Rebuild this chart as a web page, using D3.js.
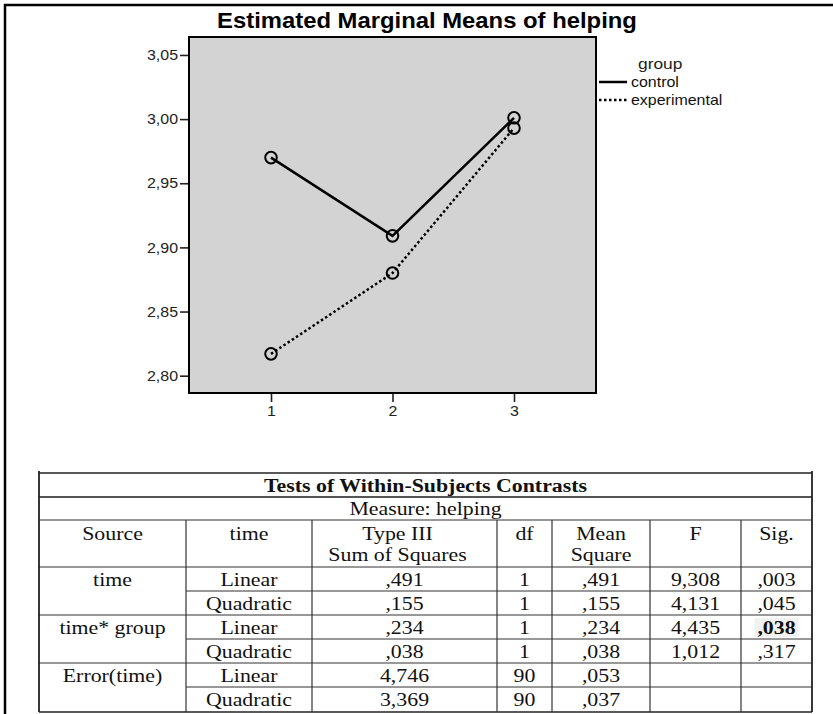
<!DOCTYPE html>
<html>
<head>
<meta charset="utf-8">
<script src="https://cdn.jsdelivr.net/npm/d3@7"></script>
<style>
  html, body { margin: 0; padding: 0; background: #fff; }
  svg { display: block; }
</style>
</head>
<body>
<svg id="fig" width="833" height="714"></svg>
<script>
// Profile plot data: estimated marginal means of helping by time and group
const timePoints = [1, 2, 3];
const timeLabels = ["1", "2", "3"];
const groupNames = ["control", "experimental"];
const controlMeans = [2.970, 2.909, 3.001];
const experimentalMeans = [2.817, 2.880, 2.993];
const yTicks = [2.80, 2.85, 2.90, 2.95, 3.00, 3.05];

// Contrast table contents
const tableTitle = "Tests of Within-Subjects Contrasts";
const measureLabel = "Measure: helping";
const headerTop = ["Source", "time", "Type III", "df", "Mean", "F", "Sig."];
const headerBottom = ["", "", "Sum of Squares", "", "Square", "", ""];
const sources = ["time", "time* group", "Error(time)"];
const contrastNames = ["Linear", "Quadratic", "Linear", "Quadratic", "Linear", "Quadratic"];
const sumSquares = [",491", ",155", ",234", ",038", "4,746", "3,369"];
const dfValues = ["1", "1", "1", "1", "90", "90"];
const meanSquares = [",491", ",155", ",234", ",038", ",053", ",037"];
const fValues = ["9,308", "4,131", "4,435", "1,012", "", ""];
const sigValues = [",003", ",045", ",038", ",317", "", ""];

const svg = d3.select("#fig");

// widen glyphs horizontally about each text's own anchor point
function stretch(sel, sx) {
  sel.each(function () {
    const t = d3.select(this);
    const tx = +t.attr("x") || 0, ty = +t.attr("y") || 0;
    t.attr("x", 0).attr("y", 0).attr("transform", `translate(${tx},${ty}) scale(${sx},1)`);
  });
  return sel;
}

// outer frame (top and left edges)
svg.append("path")
  .attr("d", "M5,714 L5,5 L833,5")
  .attr("fill", "none").attr("stroke", "#000").attr("stroke-width", 2.5);

// ---------- chart ----------
const sansFont = "Liberation Sans, Arial, sans-serif";
const plot = { left: 189, right: 596, top: 37, bottom: 393 };
const x = d3.scaleLinear().domain([0.325, 3.675]).range([plot.left, plot.right]);
const y = d3.scaleLinear().domain([2.7865, 3.064]).range([plot.bottom, plot.top]);
const commaFmt = v => d3.format(".2f")(v).replace(".", ",");

stretch(svg.append("text")
  .attr("x", 427).attr("y", 28)
  .attr("text-anchor", "middle")
  .attr("font-family", sansFont)
  .attr("font-weight", "bold").attr("font-size", 22.5)
  .text("Estimated Marginal Means of helping"), 1.06);

svg.append("rect")
  .attr("x", plot.left).attr("y", plot.top)
  .attr("width", plot.right - plot.left).attr("height", plot.bottom - plot.top)
  .attr("fill", "#d3d3d3").attr("stroke", "#000").attr("stroke-width", 2);

const yAxis = svg.append("g")
  .attr("transform", `translate(${plot.left - 1},0)`)
  .call(d3.axisLeft(y).tickValues(yTicks).tickFormat(commaFmt).tickSize(8).tickPadding(2));
const xAxis = svg.append("g")
  .attr("transform", `translate(0,${plot.bottom + 1})`)
  .call(d3.axisBottom(x).tickValues(timePoints).tickFormat((d, i) => timeLabels[i]).tickSize(8).tickPadding(4));
[yAxis, xAxis].forEach(ax => {
  ax.select(".domain").remove();
  ax.selectAll(".tick line").attr("stroke", "#222").attr("stroke-width", 1.6);
  ax.selectAll(".tick text")
    .attr("fill", "#222")
    .attr("font-family", sansFont)
    .attr("font-size", 14.5);
  stretch(ax.selectAll(".tick text"), 1.1);
});

const series = [
  { name: groupNames[0], values: controlMeans, dash: null },
  { name: groupNames[1], values: experimentalMeans, dash: "2.5,2.5" }
];
const line = d3.line().x((d, i) => x(timePoints[i])).y(d => y(d));

series.forEach(s => {
  svg.append("path")
    .datum(s.values)
    .attr("d", line)
    .attr("fill", "none").attr("stroke", "#000")
    .attr("stroke-width", 2.5)
    .attr("stroke-dasharray", s.dash);
  svg.selectAll(null)
    .data(s.values)
    .enter().append("circle")
    .attr("cx", (d, i) => x(timePoints[i]))
    .attr("cy", d => y(d))
    .attr("r", 5.8)
    .attr("fill", "none").attr("stroke", "#000").attr("stroke-width", 2);
});

// legend
const legend = svg.append("g").attr("font-family", sansFont);
stretch(legend.append("text").attr("x", 638).attr("y", 69).attr("font-size", 15.5)
  .attr("fill", "#222").text("group"), 1.12);
series.forEach((s, i) => {
  const ly = 82 + i * 18;
  legend.append("line")
    .attr("x1", 599).attr("x2", 627).attr("y1", ly).attr("y2", ly)
    .attr("stroke", "#000").attr("stroke-width", 2.5)
    .attr("stroke-dasharray", s.dash);
  stretch(legend.append("text").attr("x", 631).attr("y", ly + 5)
    .attr("font-size", 14).attr("fill", "#111").text(s.name), 1.14);
});

// ---------- table ----------
const colX = [39, 186, 312, 497, 552, 650, 741, 812];
const rowY = [473, 497, 520, 567, 591, 615, 639, 663, 687, 712];
const tLeft = colX[0], tRight = colX[colX.length - 1];
const tableStretch = 1.15;
const tab = svg.append("g")
  .attr("font-family", "Liberation Serif, Times New Roman, serif")
  .attr("font-size", 19).attr("fill", "#111");

const hline = (y0, x0, x1, w, c) => tab.append("line")
  .attr("x1", x0).attr("x2", x1).attr("y1", y0).attr("y2", y0)
  .attr("stroke", c || "#333").attr("stroke-width", w || 1.2);
const vline = (x0, y0, y1, w, c) => tab.append("line")
  .attr("x1", x0).attr("x2", x0).attr("y1", y0).attr("y2", y1)
  .attr("stroke", c || "#333").attr("stroke-width", w || 1.2);

// bold value highlight background
const sigBold = 2;
tab.append("rect")
  .attr("x", (colX[6] + colX[7]) / 2 - 22).attr("y", rowY[3 + sigBold] + 3)
  .attr("width", 44).attr("height", 19).attr("fill", "#f1f1f1");

hline(rowY[0], tLeft, tRight, 1.6, "#222");
hline(rowY[1], tLeft, tRight, 2, "#555");
hline(rowY[2], tLeft, tRight, 1.2);
hline(rowY[3], tLeft, tRight, 1.2);
for (let r = 4; r < 9; r++) {
  const full = (r === 5 || r === 7);
  hline(rowY[r], full ? tLeft : colX[1], tRight, 1.2);
}
hline(rowY[9], tLeft, tRight, 1.4, "#222");
vline(tLeft, rowY[0] - 2, rowY[9], 1.8, "#222");
vline(tRight, rowY[0] - 2, rowY[9], 1.8, "#222");
for (let c = 1; c < colX.length - 1; c++) vline(colX[c], rowY[2], rowY[9], 1.2);

const cellText = (cx, cy, str, bold) => stretch(tab.append("text")
  .attr("x", cx).attr("y", cy)
  .attr("text-anchor", "middle")
  .attr("font-weight", bold ? "bold" : null)
  .text(str), tableStretch);

cellText((tLeft + tRight) / 2, rowY[0] + 18.5, tableTitle, true);
cellText((tLeft + tRight) / 2, rowY[1] + 18, measureLabel);

const colMid = c => (colX[c] + colX[c + 1]) / 2;
headerTop.forEach((h, c) => {
  const cx = c === 2 ? colMid(c) - 7 : colMid(c);
  cellText(cx, rowY[2] + 20, h);
  if (headerBottom[c]) cellText(cx, rowY[2] + 41, headerBottom[c]);
});

sources.forEach((s, i) => cellText(colMid(0), rowY[3 + i * 2] + 19, s));
const bodyCols = [contrastNames, sumSquares, dfValues, meanSquares, fValues, sigValues];
bodyCols.forEach((vals, j) => {
  vals.forEach((v, r) => {
    if (v) cellText(colMid(j + 1), rowY[3 + r] + 19, v, j === 5 && r === sigBold);
  });
});
</script>
</body>
</html>
